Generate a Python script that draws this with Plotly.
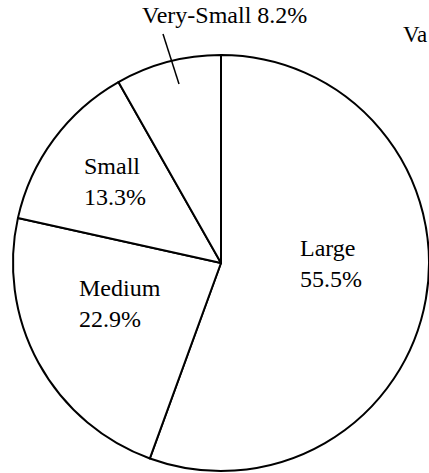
import plotly.graph_objects as go

# ---- data ----
labels = ["Large", "Medium", "Small", "Very-Small"]
shares = [55.5, 22.9, 13.3, 8.2]
cut_text = "Va"

# ---- layout / style (kept separate from data) ----
W, H = 429, 473
FONT = "Liberation Serif, Times New Roman, serif"
# label anchor points in pixels (x, y-from-top), anchors
label_px = [(298, 263), (77, 303), (82, 181), (224, 15)]
label_xanchor = ["left", "left", "left", "center"]
one_line = [False, False, False, True]

fig = go.Figure(go.Pie(
    labels=labels,
    values=shares,
    sort=False,
    direction="clockwise",
    rotation=0,
    textinfo="none",
    hoverinfo="skip",
    showlegend=False,
    marker=dict(colors=["white"] * len(labels), line=dict(color="black", width=2)),
    domain=dict(x=[13 / W, 1.0], y=[1 / H, 419 / H]),
))

annotations = []
for lab, val, (px, py), xa, ol in zip(labels, shares, label_px, label_xanchor, one_line):
    txt = f"{lab} {val}%" if ol else f"{lab}<br>{val}%"
    annotations.append(dict(
        x=px / W, y=1 - py / H, xref="paper", yref="paper",
        text=txt, showarrow=False, xanchor=xa, yanchor="middle", align="left",
        font=dict(family=FONT, size=24, color="black"),
    ))
annotations.append(dict(
    x=1.0, y=1 - 35 / H, xref="paper", yref="paper",
    text=cut_text, showarrow=False, xanchor="right", yanchor="middle",
    font=dict(family=FONT, size=23, color="black"),
))

# leader line from the top label toward the Very-Small slice
shapes = [dict(type="line", xref="paper", yref="paper",
               x0=163 / W, y0=1 - 34 / H, x1=179 / W, y1=1 - 84 / H,
               line=dict(color="black", width=1.5))]

fig.update_layout(
    width=W, height=H,
    margin=dict(l=0, r=0, t=0, b=0),
    paper_bgcolor="white", plot_bgcolor="white",
    annotations=annotations, shapes=shapes,
)

fig.write_html("out.html", config={"displayModeBar": False},
               post_script="document.body.style.margin='0';document.body.style.overflow='hidden';")
